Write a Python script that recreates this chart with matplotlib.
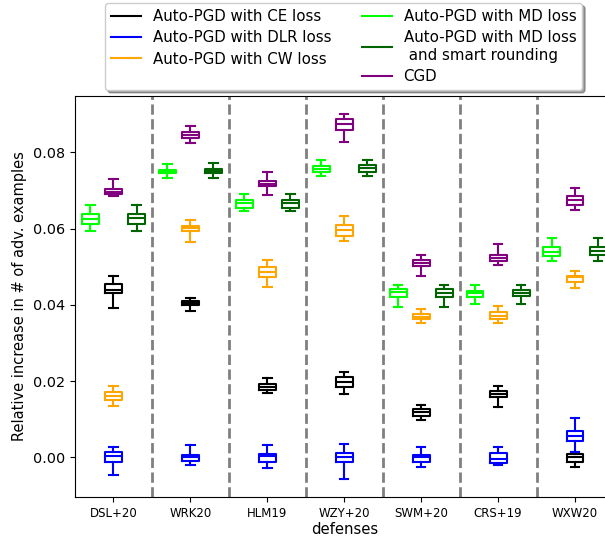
import numpy as np
import matplotlib.pyplot as plt
from matplotlib.lines import Line2D

defenses = ['DSL+20', 'WRK20', 'HLM19', 'WZY+20', 'SWM+20', 'CRS+19', 'WXW20']

# per defense: [whisker low, q1, median, q3, whisker high]
ce_stats = [
    [0.0393, 0.0430, 0.0439, 0.0455, 0.0477],
    [0.0384, 0.0399, 0.0406, 0.0411, 0.0419],
    [0.0168, 0.0176, 0.0185, 0.0192, 0.0209],
    [0.0165, 0.0185, 0.0198, 0.0211, 0.0223],
    [0.0097, 0.0109, 0.0118, 0.0126, 0.0138],
    [0.0133, 0.0158, 0.0165, 0.0173, 0.0186],
    [-0.0024, -0.0013, 0.0001, 0.0010, 0.0013],
]
dlr_stats = [
    [-0.0045, -0.0013, 0.0003, 0.0014, 0.0026],
    [-0.0019, -0.0010, 0.0000, 0.0006, 0.0032],
    [-0.0027, -0.0013, 0.0003, 0.0010, 0.0032],
    [-0.0057, -0.0013, 0.0000, 0.0011, 0.0035],
    [-0.0026, -0.0011, 0.0000, 0.0007, 0.0027],
    [-0.0021, -0.0016, -0.0004, 0.0012, 0.0027],
    [0.0013, 0.0042, 0.0056, 0.0068, 0.0103],
]
cw_stats = [
    [0.0134, 0.0151, 0.0162, 0.0171, 0.0187],
    [0.0566, 0.0595, 0.0601, 0.0606, 0.0624],
    [0.0448, 0.0472, 0.0486, 0.0499, 0.0517],
    [0.0567, 0.0582, 0.0596, 0.0610, 0.0634],
    [0.0353, 0.0362, 0.0369, 0.0376, 0.0390],
    [0.0352, 0.0362, 0.0371, 0.0381, 0.0396],
    [0.0444, 0.0461, 0.0472, 0.0477, 0.0489],
]
md_stats = [
    [0.0594, 0.0611, 0.0626, 0.0638, 0.0661],
    [0.0734, 0.0746, 0.0751, 0.0755, 0.0769],
    [0.0645, 0.0655, 0.0666, 0.0674, 0.0691],
    [0.0737, 0.0748, 0.0757, 0.0765, 0.0780],
    [0.0395, 0.0421, 0.0433, 0.0442, 0.0451],
    [0.0402, 0.0421, 0.0431, 0.0437, 0.0453],
    [0.0515, 0.0529, 0.0540, 0.0553, 0.0575],
]
md_round_stats = [
    [0.0595, 0.0613, 0.0628, 0.0638, 0.0661],
    [0.0734, 0.0747, 0.0752, 0.0757, 0.0773],
    [0.0645, 0.0654, 0.0666, 0.0676, 0.0691],
    [0.0737, 0.0749, 0.0759, 0.0768, 0.0780],
    [0.0395, 0.0421, 0.0432, 0.0442, 0.0453],
    [0.0402, 0.0424, 0.0432, 0.0438, 0.0453],
    [0.0515, 0.0531, 0.0542, 0.0553, 0.0575],
]
cgd_stats = [
    [0.0685, 0.0691, 0.0697, 0.0705, 0.0730],
    [0.0824, 0.0838, 0.0846, 0.0853, 0.0868],
    [0.0688, 0.0711, 0.0718, 0.0725, 0.0749],
    [0.0827, 0.0860, 0.0874, 0.0887, 0.0901],
    [0.0476, 0.0501, 0.0511, 0.0518, 0.0530],
    [0.0504, 0.0515, 0.0524, 0.0532, 0.0559],
    [0.0650, 0.0663, 0.0676, 0.0685, 0.0706],
]

series = [ce_stats, dlr_stats, cw_stats, md_stats, md_round_stats, cgd_stats]
labels = ['Auto-PGD with CE loss', 'Auto-PGD with DLR loss', 'Auto-PGD with CW loss',
          'Auto-PGD with MD loss', 'Auto-PGD with MD loss\n and smart rounding', 'CGD']
colors = ['black', 'blue', 'orange', 'lime', 'darkgreen', 'purple']
offsets = [0, 0, 0, -0.3, 0.3, 0]

fig = plt.figure(figsize=(6.05, 5.39), dpi=100)
ax = fig.add_axes([75 / 605, 42 / 539, 538.5 / 605, 401 / 539])

x = np.arange(len(defenses))
for stats, color, off in zip(series, colors, offsets):
    bstats = [dict(whislo=s[0], q1=s[1], med=s[2], q3=s[3], whishi=s[4]) for s in stats]
    lp = dict(color=color, linewidth=1.5)
    ax.bxp(bstats, positions=x + off, widths=0.22, showfliers=False, manage_ticks=False,
           boxprops=lp, whiskerprops=lp, capprops=lp, medianprops=lp)

for i in range(len(defenses) - 1):
    ax.axvline(i + 0.5, color='grey', linestyle='--', linewidth=2)

ax.set_xlim(-0.5, len(defenses) - 0.5)
ax.set_ylim(-0.0104, 0.0948)
ax.set_xticks(x)
ax.set_xticklabels(defenses, fontsize=8.5)
ax.set_yticks([0.0, 0.02, 0.04, 0.06, 0.08])
ax.set_yticklabels(['0.00', '0.02', '0.04', '0.06', '0.08'], fontsize=10.4)
ax.set_xlabel('defenses', fontsize=10.7, labelpad=2)
ax.set_ylabel('Relative increase in # of adv. examples', fontsize=10.5)

handles = [Line2D([], [], color=c, linewidth=1.5) for c in colors]
fig.legend(handles, labels, ncol=2, loc='upper left', bbox_to_anchor=(105 / 605, 1 - 3 / 539),
           borderaxespad=0, labelspacing=0.42, shadow=True, fontsize=10.8)

fig.savefig('out.png', dpi=100)
